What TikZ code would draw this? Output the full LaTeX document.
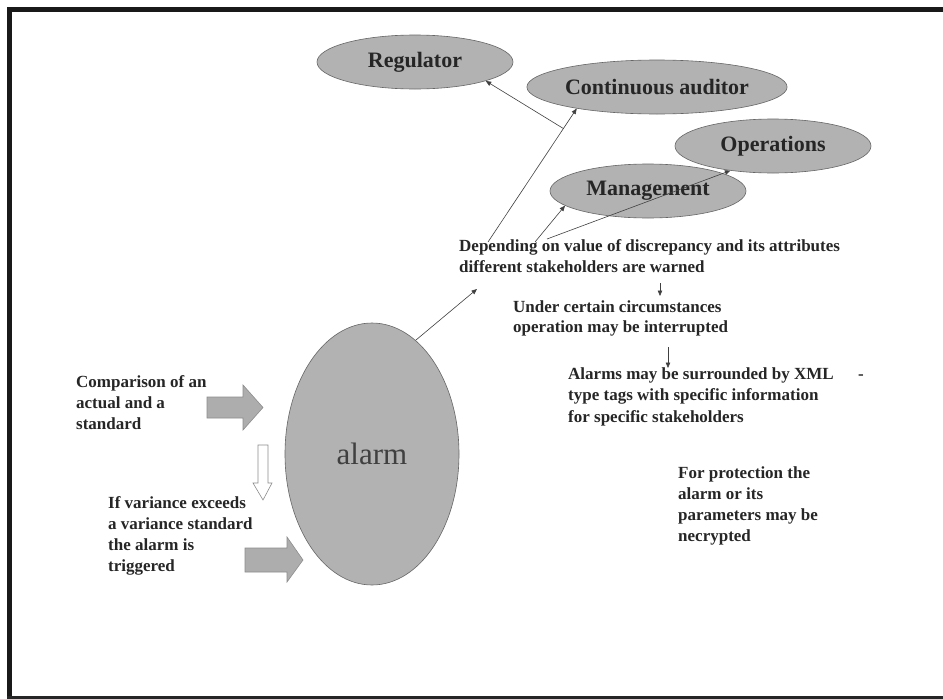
\documentclass[tikz,border=0pt]{standalone}
\usepackage{fontspec}
\setmainfont{Liberation Serif}
\usetikzlibrary{shapes.geometric,arrows.meta,calc}
\begin{document}
\begin{tikzpicture}[x=1pt,y=-1pt,
  stake/.style={ellipse,draw=black!60,fill=black!30,line width=0.6pt,inner sep=0pt,
    minimum width=196pt,minimum height=54pt,font=\fontsize{22}{26}\selectfont\bfseries,text=black!85},
  txt/.style={anchor=north west,inner sep=0pt,align=left,
    font=\fontsize{17}{21}\selectfont\bfseries,text=black!85},
  con/.style={draw=black!75,line width=0.6pt,-{Triangle[length=5.5pt,width=4.5pt]}},
  blk/.style={draw=black!45,fill=black!32,line width=0.6pt},
  ]
\useasboundingbox (0,0) rectangle (943,699);
\fill[white] (0,0) rectangle (943,699);
% frame
\draw[line width=5pt,black!90] (943,9.5) -- (9.5,9.5) -- (9.5,697.5);
\draw[line width=3.5pt,black!85] (7,697.5) -- (943,697.5);

% stakeholder ellipses
\node[stake] (reg) at (415,62) {Regulator};
\node[stake,minimum width=200pt] (cont) at (657,87) {Continuous auditor};
\node[stake] (oper) at (773,146) {Operations};
\node[stake] (mgmt) at (648,191) {Management};

% alarm
\node[ellipse,draw=black!60,fill=black!30,line width=0.6pt,inner sep=0pt,
  minimum width=174pt,minimum height=262pt,
  font=\fontsize{31}{36}\selectfont,text=black!75] (alarm) at (372,454) {alarm};

% texts
\node[txt] (dep) at (459,239.5) {Depending on value of discrepancy and its attributes\\different stakeholders are warned};
\node[txt,font=\fontsize{17}{20}\selectfont\bfseries] (under) at (513,300.5) {Under certain circumstances\\operation may be interrupted};
\node[txt,font=\fontsize{17}{21.5}\selectfont\bfseries] (alarms) at (568,367.5) {Alarms may be surrounded by XML\\type tags with specific information\\for specific stakeholders};
\node[txt,anchor=base west] (dash) at (858,379) {-};
\node[txt] (prot) at (678,466.5) {For protection the\\alarm or its\\parameters may be\\necrypted};
\node[txt] (comp) at (76,375.5) {Comparison of an\\actual and a\\standard};
\node[txt] (ifv) at (108,496.5) {If variance exceeds\\a variance standard\\the alarm is\\triggered};

% block arrows
\draw[blk] (207,397) -- (243,397) -- (243,385) -- (263,407.5) -- (243,430) -- (243,418) -- (207,418) -- cycle;
\draw[blk,fill=white] (258,445) -- (268,445) -- (268,483) -- (272,483) -- (263,500) -- (253,483) -- (258,483) -- cycle;
\draw[blk] (245,548) -- (287,548) -- (287,537) -- (303,560) -- (287,582) -- (287,572) -- (245,572) -- cycle;

% connectors
\coordinate (pA) at (488,242);
\coordinate (pM) at (535,242);
\coordinate (pO) at (547,239);
\coordinate (pD) at (477,289);
\coordinate (d1a) at (660,283);
\coordinate (d1b) at (660,296);
\coordinate (d2a) at (668,347);
\coordinate (d2b) at (668,368);
\draw[con] (alarm.69) -- (pD);
\draw[con] (pA) -- (cont.195);
\coordinate (br) at ($(pA)!0.85!(cont.195)$);
\draw[con] (br) -- (reg.345);
\draw[con] (pM) -- (mgmt.190);
\draw[con] (pO) -- (oper.210);
\draw[con] (d1a) -- (d1b);
\draw[con] (d2a) -- (d2b);
\end{tikzpicture}
\end{document}
